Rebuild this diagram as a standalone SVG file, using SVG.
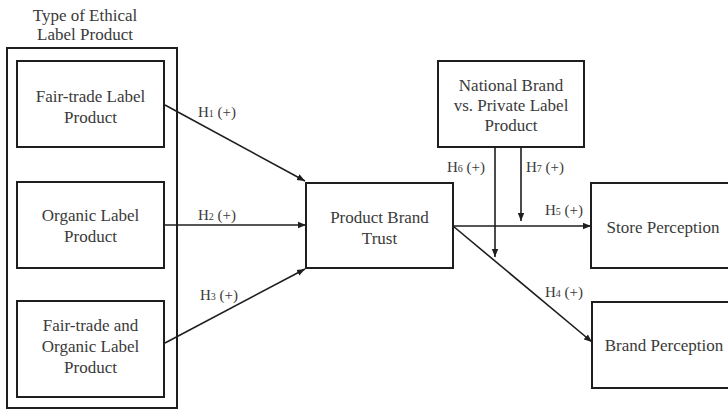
<svg xmlns="http://www.w3.org/2000/svg" width="728" height="410" viewBox="0 0 728 410">
<defs>
<style>
.box{fill:#fff;stroke:#1e1e1e;stroke-width:2}
.t{font-family:"Liberation Serif","Times New Roman",serif;font-size:17px;fill:#3a3a3a;text-anchor:middle}
.h{font-family:"Liberation Serif","Times New Roman",serif;font-size:15px;fill:#3a3a3a}
.s{font-size:10px}
.c{stroke:#1e1e1e;stroke-width:1.6;fill:none;marker-end:url(#ah)}
</style>
<marker id="ah" viewBox="0 0 10 10" refX="10" refY="5" markerWidth="5" markerHeight="5" markerUnits="strokeWidth" orient="auto">
<path d="M0,1 L10,5 L0,9 z" fill="#1e1e1e"/>
</marker>
</defs>
<rect width="728" height="410" fill="#fff"/>
<g id="group-ethical">
<text class="t" x="85" y="21">Type  of Ethical</text>
<text class="t" x="85" y="40">Label  Product</text>
<rect class="box" x="7" y="48" width="170" height="360"/>
</g>
<g id="node-fairtrade">
<rect class="box" x="17" y="61" width="147" height="86"/>
<text class="t" x="90.5" y="102">Fair-trade Label</text>
<text class="t" x="90.5" y="123">Product</text>
</g>
<g id="node-organic">
<rect class="box" x="17" y="182" width="147" height="86"/>
<text class="t" x="90.5" y="221">Organic  Label</text>
<text class="t" x="90.5" y="242">Product</text>
</g>
<g id="node-both">
<rect class="box" x="17" y="301" width="147" height="96"/>
<text class="t" x="90.5" y="331">Fair-trade and</text>
<text class="t" x="90.5" y="352">Organic Label</text>
<text class="t" x="90.5" y="373">Product</text>
</g>
<g id="node-trust">
<rect class="box" x="306" y="183" width="147" height="85"/>
<text class="t" x="379.5" y="223">Product Brand</text>
<text class="t" x="379.5" y="244">Trust</text>
</g>
<g id="node-national">
<rect class="box" x="438" y="61" width="146" height="86"/>
<text class="t" x="511" y="91">National Brand</text>
<text class="t" x="511" y="111">vs. Private Label</text>
<text class="t" x="511" y="131">Product</text>
</g>
<g id="node-store">
<rect class="box" x="591" y="183" width="150" height="85"/>
<text class="t" x="663" y="233">Store Perception</text>
</g>
<g id="node-brand">
<rect class="box" x="592" y="302" width="150" height="86"/>
<text class="t" x="664" y="351">Brand Perception</text>
</g>
<g id="connectors">
<line class="c" x1="165" y1="105" x2="305" y2="181"/>
<line class="c" x1="165" y1="225" x2="306" y2="225"/>
<line class="c" x1="165" y1="343" x2="305" y2="269"/>
<line class="c" x1="453" y1="226" x2="591" y2="226"/>
<line class="c" x1="453" y1="226" x2="592" y2="342"/>
<line class="c" x1="495" y1="147" x2="495" y2="257"/>
<line class="c" x1="521" y1="147" x2="521" y2="221"/>
</g>
<g id="labels">
<text class="h" x="198" y="117">H<tspan class="s">1</tspan> (+)</text>
<text class="h" x="198" y="220">H<tspan class="s">2</tspan> (+)</text>
<text class="h" x="200" y="300">H<tspan class="s">3</tspan> (+)</text>
<text class="h" x="545" y="297">H<tspan class="s">4</tspan> (+)</text>
<text class="h" x="545" y="215">H<tspan class="s">5</tspan> (+)</text>
<text class="h" x="447" y="172">H<tspan class="s">6</tspan> (+)</text>
<text class="h" x="526" y="172">H<tspan class="s">7</tspan> (+)</text>
</g>
</svg>
